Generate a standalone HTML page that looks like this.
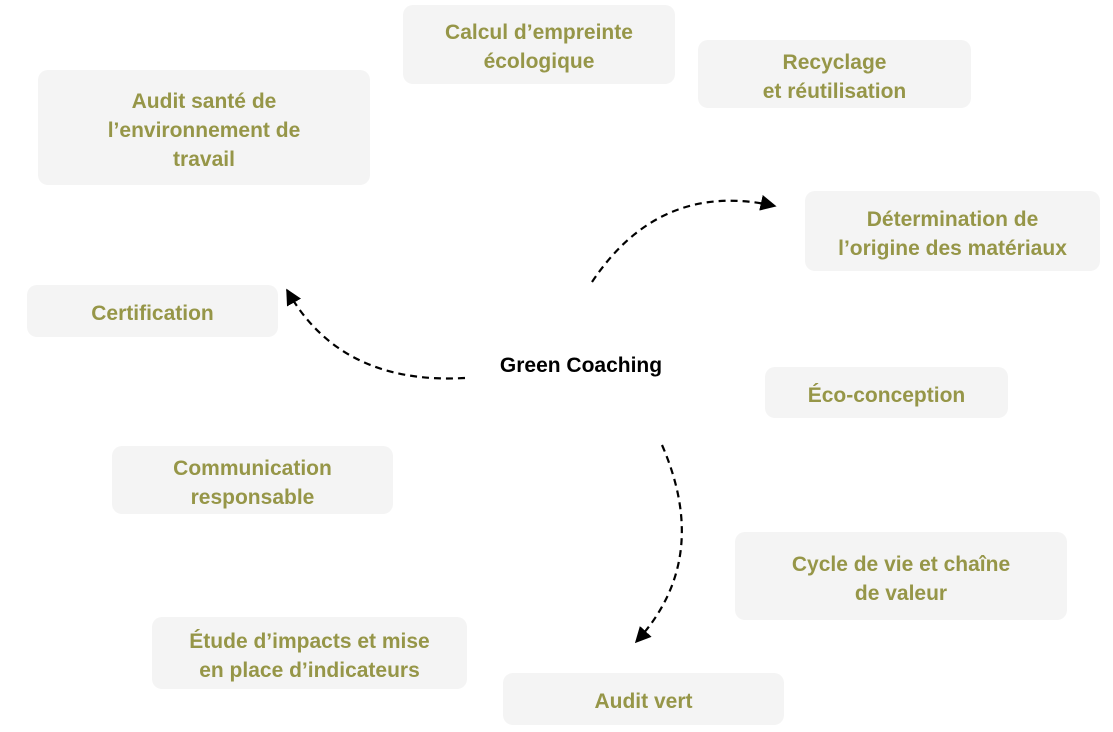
<!DOCTYPE html>
<html><head><meta charset="utf-8"><style>
body{margin:0;width:1113px;height:732px;background:#fff;position:relative;overflow:hidden;font-family:"Liberation Sans",Arial,sans-serif}
.b{position:absolute;box-sizing:border-box;padding-top:5px;background:#f4f4f4;border-radius:10px;color:#969648;font-weight:bold;font-size:21px;line-height:29px;text-align:center;display:flex;align-items:center;justify-content:center}
.c{position:absolute;left:471px;top:354px;width:220px;text-align:center;font-weight:bold;font-size:21px;color:#000}
svg{position:absolute;left:0;top:0}
</style></head><body>
<div class="b" style="left:403px;top:5px;width:272px;height:79px">Calcul d’empreinte<br>écologique</div>
<div class="b" style="left:698px;top:40px;width:273px;height:68px">Recyclage<br>et réutilisation</div>
<div class="b" style="left:38px;top:70px;width:332px;height:115px">Audit santé de<br>l’environnement de<br>travail</div>
<div class="b" style="left:805px;top:191px;width:295px;height:80px">Détermination de<br>l’origine des matériaux</div>
<div class="b" style="left:27px;top:285px;width:251px;height:52px">Certification</div>
<div class="b" style="left:765px;top:367px;width:243px;height:51px">Éco-conception</div>
<div class="b" style="left:112px;top:446px;width:281px;height:68px">Communication<br>responsable</div>
<div class="b" style="left:735px;top:532px;width:332px;height:88px">Cycle de vie et chaîne<br>de valeur</div>
<div class="b" style="left:152px;top:617px;width:315px;height:72px">Étude d’impacts et mise<br>en place d’indicateurs</div>
<div class="b" style="left:503px;top:673px;width:281px;height:52px">Audit vert</div>
<div class="c">Green Coaching</div>
<svg width="1113" height="732">
<defs><marker id="m" viewBox="0 0 10 10" markerWidth="16" markerHeight="16" refX="9" refY="5" orient="auto" markerUnits="userSpaceOnUse"><path d="M0,0L10,5L0,10z" fill="#000"/></marker></defs>
<g fill="none" stroke="#000" stroke-width="2.2" stroke-dasharray="7,5">
<path d="M592,282 Q660,180 775,206" marker-end="url(#m)"/>
<path d="M465,378 Q340,385 287,290" marker-end="url(#m)"/>
<path d="M662,445 Q712,560 636,642" marker-end="url(#m)"/>
</g></svg>
</body></html>
